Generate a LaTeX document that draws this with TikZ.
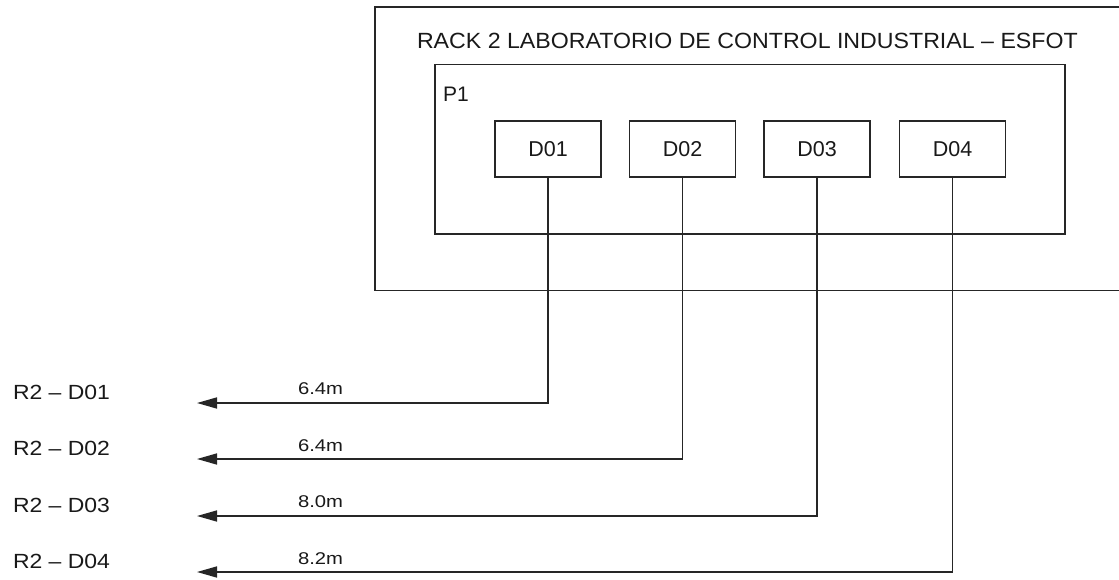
\documentclass[tikz,border=0pt]{standalone}
\usepackage{fontspec}
\usepackage{graphicx}
\setmainfont{Liberation Sans}
\usetikzlibrary{arrows.meta}
\begin{document}
\begin{tikzpicture}[x=1pt,y=-1pt,
  line/.style={draw=black!85, line width=1.6pt},
  dbox/.style={line, minimum width=106pt, minimum height=56pt, inner sep=0pt,
               font=\fontsize{21.5}{25}\selectfont, text=black!90},
  plain/.style={inner sep=0pt, outer sep=0pt, text=black!90},
  cable/.style={line, -{Triangle[length=20pt, width=11pt]}},
]
\useasboundingbox (0,0) rectangle (1119,580);
\fill[white] (0,0) rectangle (1119,580);

% outer rack box (right side runs past the picture edge)
\draw[line] (1119,7) -- (375,7) -- (375,290.5) -- (1119,290.5);
\node[plain, anchor=base west, font=\fontsize{22}{26}\selectfont] (title) at (417,48.5)
  {\scalebox{1.053}[1]{RACK 2 LABORATORIO DE CONTROL INDUSTRIAL – ESFOT}};

% inner panel
\draw[line] (435,64.5) rectangle (1065,234);
\node[plain, anchor=base west, font=\fontsize{21}{25}\selectfont] (p1) at (443,102) {P1};

% devices
\node[dbox] (d1) at (548,149) {D01};
\node[dbox] (d2) at (682.5,149) {D02};
\node[dbox] (d3) at (817,149) {D03};
\node[dbox] (d4) at (952.5,149) {D04};

% cable ends
\coordinate (e1) at (197,403);
\coordinate (e2) at (197,459);
\coordinate (e3) at (197,516);
\coordinate (e4) at (197,572);

\draw[cable] (d1.south) |- (e1);
\draw[cable] (d2.south) |- (e2);
\draw[cable] (d3.south) |- (e3);
\draw[cable] (d4.south) |- (e4);

% lengths
\begin{scope}[every node/.style={plain, anchor=base west, font=\fontsize{17}{20}\selectfont}]
\node (l1) at (298,394) {\scalebox{1.19}[1]{6.4m}};
\node (l2) at (298,451) {\scalebox{1.19}[1]{6.4m}};
\node (l3) at (298,507) {\scalebox{1.19}[1]{8.0m}};
\node (l4) at (298,564) {\scalebox{1.19}[1]{8.2m}};
\end{scope}

% destination labels
\begin{scope}[every node/.style={plain, anchor=base west, font=\fontsize{20.5}{24}\selectfont}]
\node (r1) at (13,399) {\scalebox{1.12}[1]{R2 – D01}};
\node (r2) at (13,455) {\scalebox{1.12}[1]{R2 – D02}};
\node (r3) at (13,512) {\scalebox{1.12}[1]{R2 – D03}};
\node (r4) at (13,568) {\scalebox{1.12}[1]{R2 – D04}};
\end{scope}
\end{tikzpicture}
\end{document}
